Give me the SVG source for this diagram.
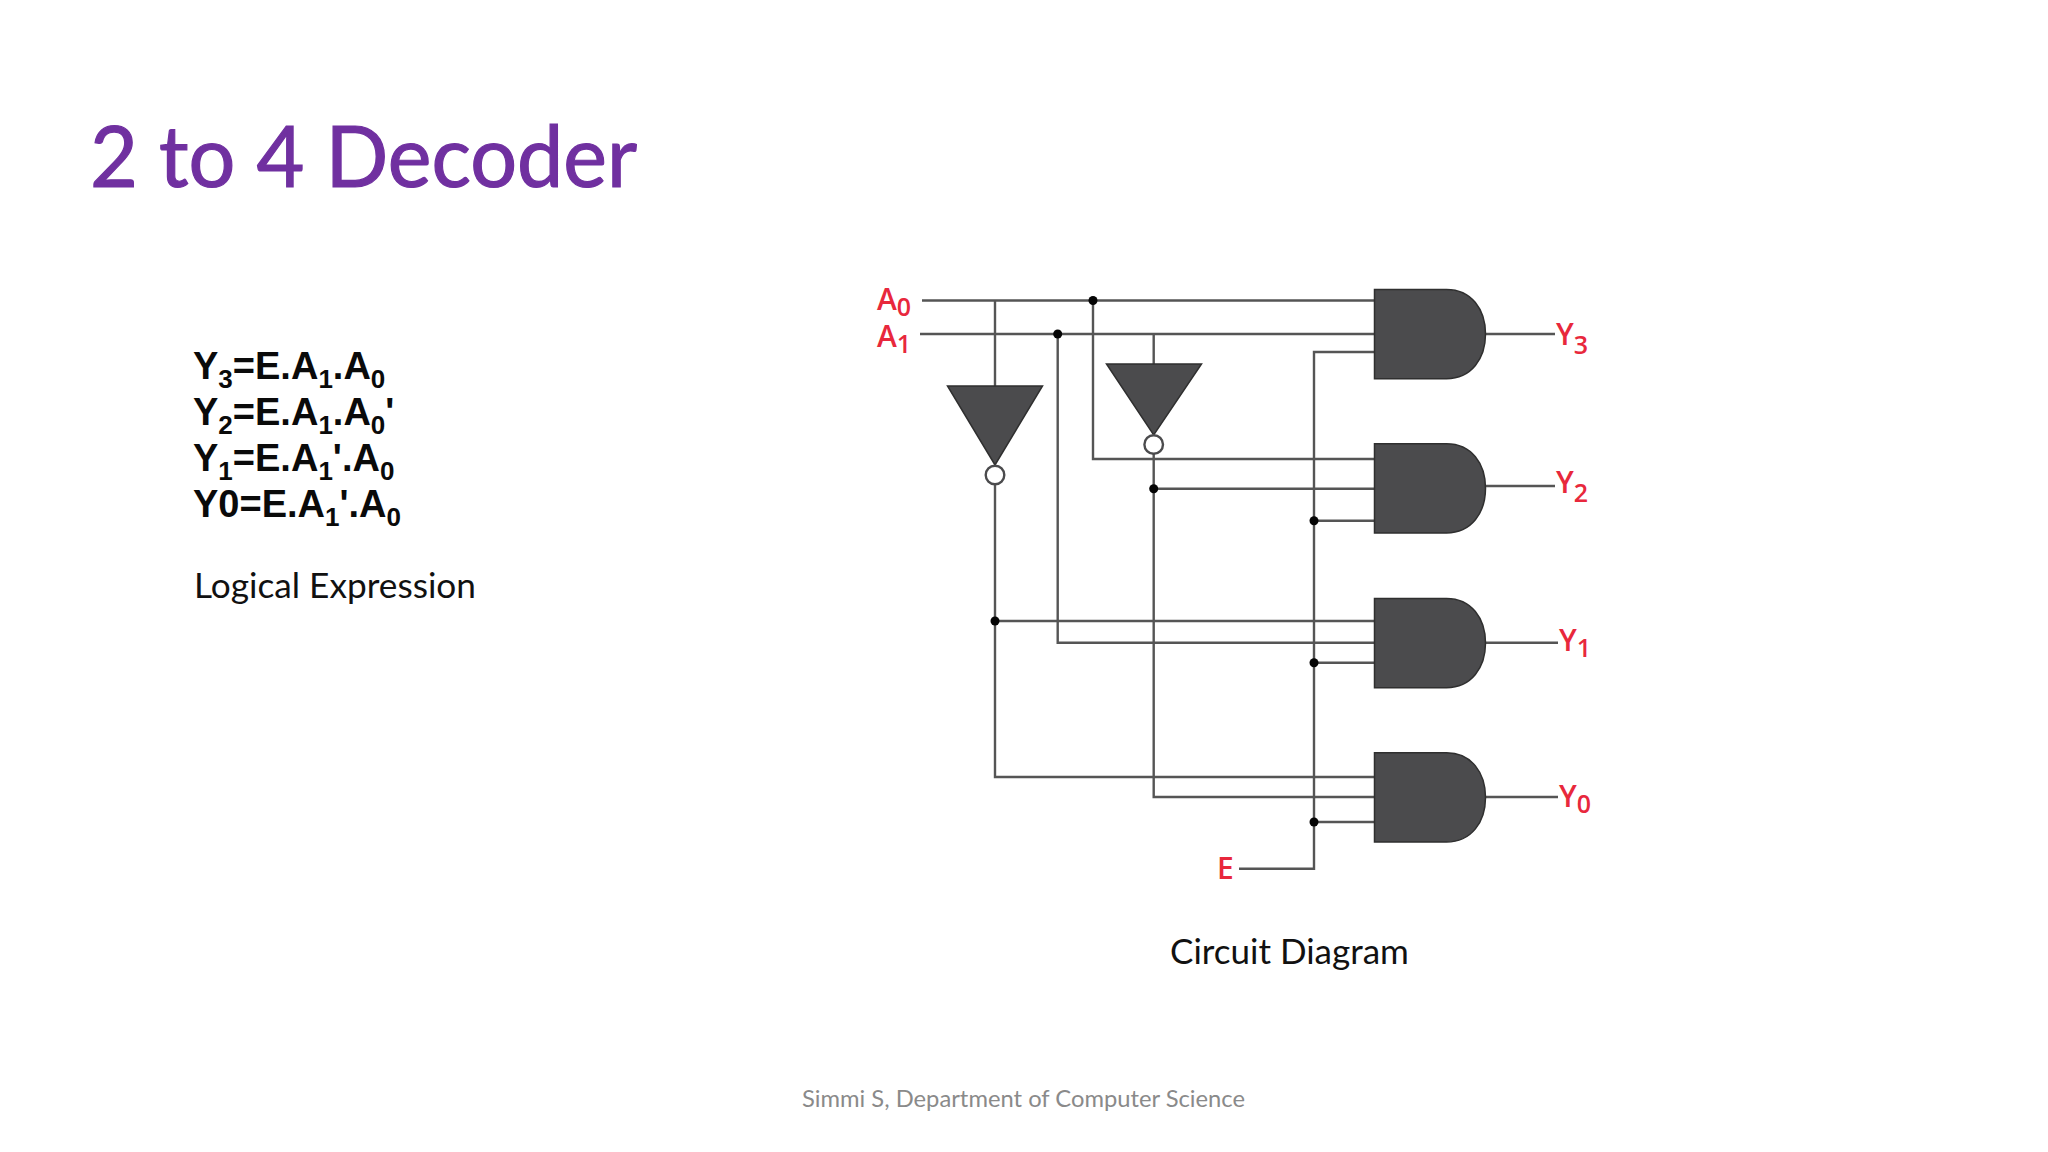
<svg xmlns="http://www.w3.org/2000/svg" width="2048" height="1152" viewBox="0 0 2048 1152">
<style>
.w{fill:none;stroke:#555;stroke-width:2.4}
.g{fill:#4b4b4d;stroke:#2f2f2f;stroke-width:1.5}
.d{fill:#050505}
.b{fill:#fff;stroke:#4b4b4d;stroke-width:2.4}
.eq{font-family:"Liberation Sans",Arial,sans-serif;font-weight:700;font-size:38px;fill:#0a0a0a}
.cap{font-family:Lato,"Open Sans",sans-serif;font-size:35px;fill:#111}
.r{font-family:"Open Sans","Noto Sans",sans-serif;font-size:30px;font-weight:600;fill:#e8283c}
.rs{font-size:25px}
.s{font-size:26px}
</style>
<defs><path id="and" d="M0 0H72C97 0 111 20 111 44.6C111 69 97 89.2 72 89.2H0Z"/></defs>
<rect width="2048" height="1152" fill="#fff"/>
<text id="title" x="90" y="187" font-family="Lato,'Open Sans',sans-serif" font-size="86" fill="#7030a0" stroke="#7030a0" stroke-width="1.2" textLength="547" lengthAdjust="spacingAndGlyphs">2 to 4 Decoder</text>
<g id="expressions">
<text class="eq" x="193" y="379">Y<tspan class="s" dy="9">3</tspan><tspan dy="-9">=E.A</tspan><tspan class="s" dy="9">1</tspan><tspan dy="-9">.A</tspan><tspan class="s" dy="9">0</tspan></text>
<text class="eq" x="193" y="425">Y<tspan class="s" dy="9">2</tspan><tspan dy="-9">=E.A</tspan><tspan class="s" dy="9">1</tspan><tspan dy="-9">.A</tspan><tspan class="s" dy="9">0</tspan><tspan dy="-9">'</tspan></text>
<text class="eq" x="193" y="471">Y<tspan class="s" dy="9">1</tspan><tspan dy="-9">=E.A</tspan><tspan class="s" dy="9">1</tspan><tspan dy="-9">'.A</tspan><tspan class="s" dy="9">0</tspan></text>
<text class="eq" x="193" y="517">Y0=E.A<tspan class="s" dy="9">1</tspan><tspan dy="-9">'.A</tspan><tspan class="s" dy="9">0</tspan></text>
</g>
<text id="cap-logic" class="cap" x="194" y="598" textLength="282" lengthAdjust="spacingAndGlyphs">Logical Expression</text>
<text id="cap-circuit" class="cap" x="1170" y="963.5">Circuit Diagram</text>
<text id="footer" x="802" y="1107" font-family="Lato,'Open Sans',sans-serif" font-size="24" fill="#8a8a8a" textLength="443" lengthAdjust="spacingAndGlyphs">Simmi S, Department of Computer Science</text>
<g id="connectors">
<path class="w" d="M922 300.5H1374M920 334H1374M995 300.5V386M1153.7 334V364M1093 300.5V459H1374M1057.7 334V642.7H1374"/>
<path class="w" d="M995 485V777H1374M1153.7 454V797H1374M1153.7 488.7H1374M995 621H1374"/>
<path class="w" d="M1374 352H1314V868.7H1239M1314 520.7H1374M1314 662.7H1374M1314 822H1374"/>
<path class="w" d="M1485 334H1555M1485 486H1555M1485 642.7H1558M1485 797H1558"/>
<circle class="d" cx="1093" cy="300.5" r="4.5"/><circle class="d" cx="1057.7" cy="334" r="4.5"/>
<circle class="d" cx="1153.7" cy="488.7" r="4.5"/><circle class="d" cx="995" cy="621" r="4.5"/>
<circle class="d" cx="1314" cy="520.7" r="4.5"/><circle class="d" cx="1314" cy="662.7" r="4.5"/><circle class="d" cx="1314" cy="822" r="4.5"/>
</g>
<g id="inv-a0"><path class="g" d="M947.5 386H1042.5L995 465Z"/><circle class="b" cx="995" cy="475" r="9.3"/></g>
<g id="inv-a1"><path class="g" d="M1106.5 364H1201.5L1153.7 435Z"/><circle class="b" cx="1153.7" cy="444.5" r="9.3"/></g>
<g id="and-y3"><use href="#and" class="g" x="1374.5" y="289.5"/></g>
<g id="and-y2"><use href="#and" class="g" x="1374.5" y="443.7"/></g>
<g id="and-y1"><use href="#and" class="g" x="1374.5" y="598.5"/></g>
<g id="and-y0"><use href="#and" class="g" x="1374.5" y="752.8"/></g>
<g id="labels">
<text class="r" x="877" y="310" font-weight="700">A<tspan class="rs" dy="6">0</tspan></text>
<text class="r" x="877" y="347" font-weight="700">A<tspan class="rs" dy="6">1</tspan></text>
<text class="r" x="1556" y="345">Y<tspan class="rs" dy="9">3</tspan></text>
<text class="r" x="1556" y="493">Y<tspan class="rs" dy="9">2</tspan></text>
<text class="r" x="1559" y="651">Y<tspan class="rs" dy="6">1</tspan></text>
<text class="r" x="1559" y="807">Y<tspan class="rs" dy="6">0</tspan></text>
<text class="r" x="1217" y="879" font-weight="700">E</text>
</g>
</svg>
